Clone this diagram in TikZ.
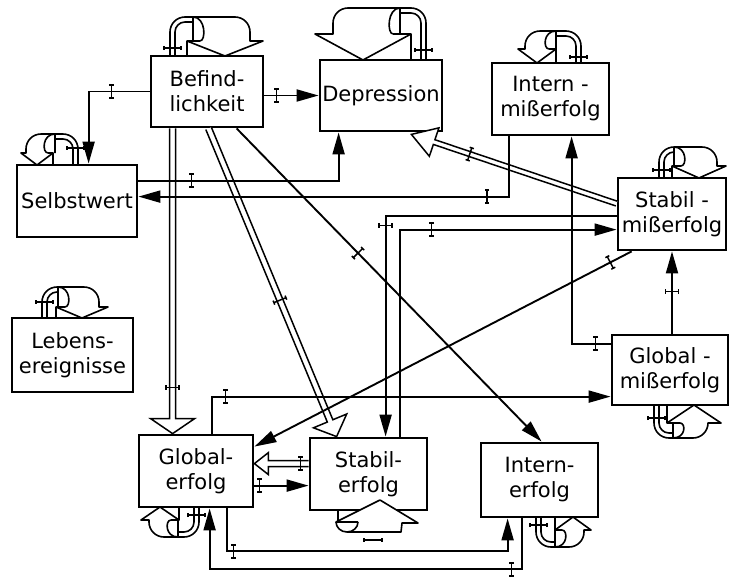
\documentclass[tikz,border=0pt]{standalone}
\usepackage{fontspec}
\setmainfont{DejaVu Sans}
\usetikzlibrary{calc,arrows.meta,decorations.markings}
\newcommand\tkglyph{\draw[line width=1.5pt,-] (0pt,-6.5pt) -- (0pt,6.5pt) (-2.2pt,-6.5pt) -- (2.2pt,-6.5pt) (-2.2pt,6.5pt) -- (2.2pt,6.5pt);}
% #1 scope options, #2 tip distance D, #3 height H, #4 wing depth L, #5 wing half-width A, #6 band width B, #7 tick offset
\newcommand\selfloop[7]{%
 \begin{scope}[#1]
 \pgfmathsetmacro\slR{min(15,#3-#4)}
 \pgfmathsetmacro\slRi{\slR-5}
 \pgfmathsetmacro\slE{#2+#6/2}
 \pgfmathsetmacro\slI{#2-#6/2}
 \pgfmathsetmacro\slD{\slI-7}
 \pgfmathsetmacro\slW{#2-#5}
 \fill[white] (0,0) -- (0,{-#3+\slR}) arc[start angle=180,end angle=270,radius=\slR] -- ({\slE-\slR},-#3) arc[start angle=270,end angle=360,radius=\slR] -- (\slE,-#4) -- ({#2+#5},-#4) -- (#2,0) -- cycle;
 \draw[loopln] (0,0) -- (0,{-#3+\slR}) arc[start angle=180,end angle=270,radius=\slR] -- ({\slE-\slR},-#3) arc[start angle=270,end angle=360,radius=\slR] -- (\slE,-#4) -- ({#2+#5},-#4) -- (#2,0) -- ({#2-#5},-#4) -- (\slI,-#4);
 \draw[loopln] (5,0) -- (5,{-#3+\slR}) arc[start angle=180,end angle=270,radius=\slRi] -- (\slD,{-#3+5});
 \draw[loopln] (\slW,0) -- (\slW,-#4);
 \draw[loopln] (\slD,-#3) -- (\slD,-#4) (\slD,-#3) .. controls ({\slI+6},-#3) and ({\slI+6},-#4) .. (\slI,-#4);
 \draw[loopln] (-6,-#7) -- (11,-#7) (-6,{-#7-2}) -- (-6,{-#7+2}) (11,{-#7-2}) -- (11,{-#7+2});
 \end{scope}}
% #1 start, #2 end (tip), #3 half gap, #4 head half-width, #5 head length
\newcommand\hollowarr[5]{%
 \coordinate (hb) at ($(#2)!#5pt!(#1)$);
 \fill[white] ($(#1)!#3pt!90:(#2)$) -- ($(hb)!#3pt!90:(#2)$) -- ($(hb)!#4pt!90:(#2)$) -- (#2) -- ($(hb)!#4pt!-90:(#2)$) -- ($(hb)!#3pt!-90:(#2)$) -- ($(#1)!#3pt!-90:(#2)$) -- cycle;
 \draw[hol] ($(#1)!#3pt!90:(#2)$) -- ($(hb)!#3pt!90:(#2)$) -- ($(hb)!#4pt!90:(#2)$) -- (#2) -- ($(hb)!#4pt!-90:(#2)$) -- ($(hb)!#3pt!-90:(#2)$) -- ($(#1)!#3pt!-90:(#2)$);}
\begin{document}
\begin{tikzpicture}[x=1pt,y=-1pt,
 box/.style={draw, line width=2.8pt, fill=white, align=center, inner sep=0pt, font=\fontsize{21}{25}\selectfont},
 con/.style={line width=1.9pt},
 arr/.style={con, -{Triangle[length=22pt,width=12pt]}},
 loopln/.style={line width=1.6pt, line join=round},
 hol/.style={line width=1.5pt, line join=miter},
 tk/.style={postaction={decorate,decoration={markings,mark=at position #1 with {\tkglyph}}}}]
\useasboundingbox (0,0) rectangle (731,579);
\fill[white] (0,0) rectangle (731,579);
% self loops
\selfloop{shift={(170,56)}}{55}{39}{15}{38}{50}{8}
\selfloop{shift={(426,60)},xscale=-1}{63}{52}{26}{48}{60}{10}
\selfloop{shift={(581,63)},xscale=-1}{44}{32}{14}{19}{24}{6}
\selfloop{shift={(659,178)}}{40}{31}{12}{27}{36}{8}
\selfloop{shift={(78,165)},xscale=-1}{41}{31}{12}{16}{22}{17}
\selfloop{shift={(42,318)}}{40}{31}{11}{26}{34}{16}
\selfloop{shift={(199,507)},xscale=-1,yscale=-1}{39}{30}{13}{19}{22}{8}
\selfloop{shift={(536,517)},yscale=-1}{37}{30}{13}{18}{22}{8}
\selfloop{shift={(654,405)},yscale=-1}{40}{33}{18}{27}{28}{13}
% boxes
\node[box, minimum width=112pt, minimum height=71pt] (befind) at (207,91.5) {Befind-\\lichkeit};
\node[box, minimum width=122pt, minimum height=71pt] (depr) at (381,95.5) {Depression};
\node[box, minimum width=117pt, minimum height=72pt] (intmiss) at (550.5,99) {Intern -\\mißerfolg};
\node[box, minimum width=108pt, minimum height=72pt] (stabmiss) at (672,214) {Stabil -\\mißerfolg};
\node[box, minimum width=120pt, minimum height=72pt] (selbst) at (77,201) {Selbstwert};
\node[box, minimum width=121pt, minimum height=74pt] (lebens) at (72.5,355) {Lebens-\\ereignisse};
\node[box, minimum width=114pt, minimum height=72pt] (globerf) at (196,471) {Global-\\erfolg};
\node[box, minimum width=117pt, minimum height=72pt] (staberf) at (368.5,474) {Stabil-\\erfolg};
\node[box, minimum width=117pt, minimum height=74pt] (interf) at (539.5,480) {Intern-\\erfolg};
\node[box, minimum width=116pt, minimum height=70pt] (globmiss) at (670,370) {Global -\\mißerfolg};
% hollow (double-line) arrows
\coordinate (e1) at ($(stabmiss.north west)+(0,27)$);
\coordinate (e2) at ($(depr.south east)+(-32,2)$);
\hollowarr{e1}{e2}{2.5}{15}{24}
\path[tk=155pt] (e1) -- (e2);
\coordinate (l1) at ($(befind.south west)+(23,0)$);
\coordinate (l2) at ($(globerf.north west)+(35,0)$);
\hollowarr{l1}{l2}{3}{22}{15}
\path[tk=259pt] (l1) -- (l2);
\coordinate (m1) at ($(befind.south west)+(59,0)$);
\coordinate (m2) at ($(staberf.north west)+(28,0)$);
\hollowarr{m1}{m2}{3}{18}{17}
\path[tk=186pt] (m1) -- (m2);
\coordinate (n1) at ($(staberf.north west)+(0,27)$);
\coordinate (n2) at ($(globerf.north east)+(0,30)$);
\hollowarr{n1}{n2}{3}{11}{14}
\path[tk=8pt] (n1) -- (n2);
% single-line connectors
\draw[arr, tk=12pt] (befind.east |- depr.west) -- (depr.west);
\draw[arr, tk=38pt] (befind.west) -| ($(selbst.north west)+(73,0)$);
\draw[arr, tk=53pt] ($(selbst.north east)+(0,17)$) -| ($(depr.south west)+(20,0)$);
\draw[arr, tk=82pt] ($(intmiss.south west)+(18,0)$) |- ($(selbst.north east)+(0,33)$);
\draw[arr, tk=241pt] ($(stabmiss.north west)+(0,39)$) -| ($(staberf.north west)+(77,0)$);
\draw[arr, tk=239pt] ($(staberf.north west)+(91,0)$) |- ($(stabmiss.north west)+(0,53)$);
\draw[arr, tk=15pt] ($(globmiss.north west)+(0,10)$) -| ($(intmiss.south west)+(81,0)$);
\draw[arr, tk=42pt] (globmiss.north -| stabmiss.south) -- (stabmiss.south);
\draw[arr, tk=24pt] ($(stabmiss.south west)+(15,0)$) -- ($(globerf.north east)+(0,13)$);
\draw[arr, tk=174pt] ($(befind.south west)+(87,0)$) -- ($(interf.north west)+(62,0)$);
\draw[arr, tk=5pt] ($(globerf.north east)+(0,52)$) -- ($(staberf.north west)+(0,49)$);
\draw[arr, tk=51pt] ($(globerf.north west)+(74,0)$) |- ($(globmiss.north west)+(0,63)$);
\draw[arr, tk=50pt] ($(globerf.south west)+(89,0)$) -- ++(0,43) -| ($(interf.south west)+(28,0)$);
\draw[arr, tk=61pt] ($(interf.south west)+(42,0)$) -- ++(0,51) -| ($(globerf.south west)+(72,0)$);
% Stabilerfolg self loop
\fill[white] (380,500) -- (418,523) -- (402,523) -- (401,532) -- (347,532) -- (336,522) -- cycle;
\draw[loopln] (380,500) -- (418,523) -- (402,523) -- (401,532) -- (347,532);
\draw[loopln] (380,500) -- (336,522) -- (358,522);
\draw[loopln] (336,522) arc[start angle=180,end angle=0,x radius=11,y radius=10];
\draw[loopln] (338,510) -- (338,522);
\draw[loopln] (364,540) -- (382,540) (364,538) -- (364,542) (382,538) -- (382,542);
\end{tikzpicture}
\end{document}
